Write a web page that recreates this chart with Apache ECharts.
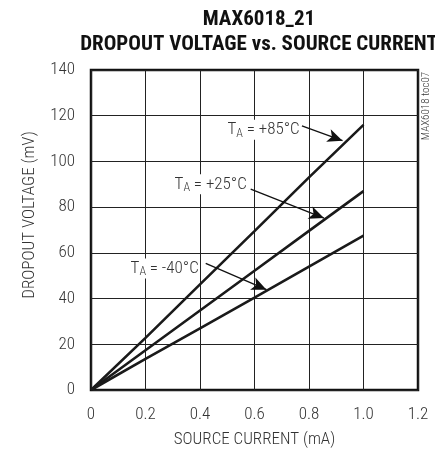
<!DOCTYPE html>
<html><head><meta charset="utf-8">
<script src="https://cdn.jsdelivr.net/npm/echarts@6/dist/echarts.min.js"></script>
<style>html,body{margin:0;padding:0;background:#fff}#c{width:435px;height:453px}</style>
</head><body><div id="c"></div>
<script>
var FONT = "'Roboto Condensed', 'Liberation Sans Narrow', sans-serif";
var current = [0, 0.2, 0.4, 0.6, 0.8, 1.0];
var v85 = [0, 22.8, 46.2, 69.5, 93, 116];
var v25 = [0, 17.4, 34.8, 52.2, 69.6, 87];
var vm40 = [0, 13.6, 27, 40.4, 54, 67.5];
var xTicks = ['0', '0.2', '0.4', '0.6', '0.8', '1.0', '1.2'];
var labels = ['+85°C', '+25°C', '-40°C'];
// annotation anchors in data space: [labelX, labelY, arrowStartX, arrowStartY, arrowTipX, arrowTipY]
var ann85 = [0.497, 113.9, 0.774, 115.6, 0.923, 109.1];
var ann25 = [0.303, 90, 0.586, 87.9, 0.855, 75.2];
var annm40 = [0.1415, 53.2, 0.421, 55.4, 0.644, 43.9];

function pairs(ys) { return current.map(function (x, i) { return [x, ys[i]]; }); }

function series(name, ys, ann, lab) {
  return {
    name: name, type: 'line', data: pairs(ys), symbol: 'none', silent: true,
    lineStyle: { color: '#1a1a1a', width: 2.6 },
    markLine: {
      silent: true, symbol: ['none', 'arrow'], symbolSize: [10, 15], animation: false,
      label: { show: false },
      lineStyle: { color: '#111', width: 1.3, type: 'solid' },
      data: [[{ coord: [ann[2], ann[3]] }, { coord: [ann[4], ann[5]] }]]
    },
    markPoint: {
      silent: true, symbol: 'circle', symbolSize: 0, animation: false,
      label: {
        show: true, position: 'right', distance: 0,
        formatter: '{t|T}{s|A}{t| = ' + lab + '}',
        backgroundColor: '#fff', padding: [0, 1, 0, 1],
        rich: {
          t: { fontFamily: FONT, fontWeight: 300, fontSize: 17, color: '#333', lineHeight: 20 },
          s: { fontFamily: FONT, fontWeight: 300, fontSize: 12, color: '#333', lineHeight: 20, padding: [8, 0, 0, 0] }
        }
      },
      data: [{ coord: [ann[0], ann[1]] }]
    }
  };
}

var chart = echarts.init(document.getElementById('c'), null, { renderer: 'canvas' });
chart.setOption({
  animation: false,
  backgroundColor: '#fff',
  title: {
    text: 'MAX6018_21\nDROPOUT VOLTAGE vs. SOURCE CURRENT',
    left: 254, top: 2, textAlign: 'center',
    textStyle: { fontFamily: FONT, fontWeight: 'bold', fontSize: 21, color: '#111', lineHeight: 25 }
  },
  grid: { left: 91, top: 70, width: 327, height: 323, show: true, borderColor: '#111', borderWidth: 2.5, backgroundColor: 'transparent' },
  xAxis: {
    type: 'value', min: 0, max: 1.2, interval: 0.2,
    axisLine: { show: false }, axisTick: { show: false },
    splitLine: { show: true, lineStyle: { color: '#222', width: 1 } },
    axisLabel: {
      fontFamily: FONT, fontWeight: 300, fontSize: 17, color: '#333', margin: 16,
      formatter: function (v) { return xTicks[Math.round(v / 0.2)]; }
    },
    name: 'SOURCE CURRENT (mA)', nameLocation: 'middle', nameGap: 41,
    nameTextStyle: { fontFamily: FONT, fontWeight: 300, fontSize: 17, color: '#333' }
  },
  yAxis: {
    type: 'value', min: 0, max: 140, interval: 20,
    axisLine: { show: false }, axisTick: { show: false },
    splitLine: { show: true, lineStyle: { color: '#222', width: 1 } },
    axisLabel: { fontFamily: FONT, fontWeight: 300, fontSize: 17, color: '#333', margin: 16 }
  },
  graphic: [
    { type: 'text', x: 30, y: 215, rotation: Math.PI / 2,
      style: { text: 'DROPOUT VOLTAGE (mV)', fontFamily: FONT, fontWeight: 300, fontSize: 17, fill: '#333', align: 'center', verticalAlign: 'middle' } },
    { type: 'text', x: 426, y: 106, rotation: Math.PI / 2,
      style: { text: 'MAX6018 toc07', fontFamily: FONT, fontWeight: 300, fontSize: 11, fill: '#333', align: 'center', verticalAlign: 'middle' } }
  ],
  series: [
    series('+85', v85, ann85, labels[0]),
    series('+25', v25, ann25, labels[1]),
    series('-40', vm40, annm40, labels[2])
  ]
});
</script></body></html>
